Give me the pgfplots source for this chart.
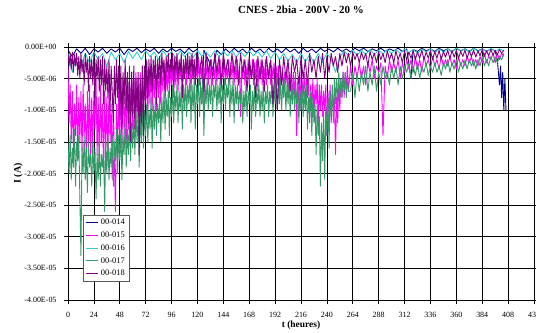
\documentclass[border=0pt]{standalone}
\usepackage{pgfplots}
\pgfplotsset{compat=1.18}
\usepackage{fontspec}
\setmainfont{Liberation Serif}
\definecolor{cnavy}{HTML}{000080}
\definecolor{cmag}{HTML}{FF00FF}
\definecolor{ccyan}{HTML}{33CCCC}
\definecolor{cgreen}{HTML}{339966}
\definecolor{cpurp}{HTML}{800080}
\begin{document}
\begin{tikzpicture}
\begin{axis}[name=ax,
  scale only axis, width=466bp, height=253bp,
  xmin=0, xmax=432, ymin=-40, ymax=0,
  xtick={0,24,...,432},
  ytick={0,-5,-10,-15,-20,-25,-30,-35,-40},
  yticklabels={0.00E+00,-5.00E-06,-1.00E-05,-1.50E-05,-2.00E-05,-2.50E-05,-3.00E-05,-3.50E-05,-4.00E-05},
  /pgf/number format/assume math mode=true,
  tick label style={font=\fontsize{8}{9}\selectfont},
  xticklabel style={anchor=center, yshift=-11bp},
  yticklabel style={anchor=east, xshift=-4bp},
  tick align=outside, major tick length=4bp,
  tick style={black, line width=0.6pt},
  grid=major, major grid style={black, line width=0.6pt},
  axis line style={black, line width=0.6pt},
  title={CNES - 2bia - 200V - 20 \%},
  title style={font=\bfseries\fontsize{11}{12}\selectfont, at={(axis description cs:0.5,1.123)}, anchor=center},
  xlabel={t (heures)},
  xlabel style={font=\bfseries\fontsize{9.5}{10}\selectfont, at={(axis description cs:0.5,-0.098)}, anchor=center},
  ylabel={I (A)},
  ylabel style={font=\bfseries\fontsize{10}{11}\selectfont, at={(axis description cs:-0.107,0.5)}, anchor=center, rotate=0},
  legend style={at={(rel axis cs:0.032,0.336)}, anchor=north west, draw=gray!70!black, line width=0.6pt, fill=white, font=\fontsize{8.5}{10}\selectfont, inner sep=2bp, row sep=1.6bp, cells={anchor=west}},
  legend image code/.code={\draw[#1, line width=1pt] plot coordinates {(0cm,0cm) (0.45cm,0cm)};},
  every axis plot/.append style={line width=0.9pt, line join=round},
]
\addplot[cnavy] coordinates {
(0,-0.5)(4,-1.5)(8,-0.3)(12,-1)(16,-0.2)(20,-1.2)(24,-0.3)(28,-0.8)(32,-0.2)(36,-1)(40,-0.3)(44,-0.8)(48,-0.2)(52,-1.2)(56,-0.3)(60,-0.7)(64,-0.2)(68,-0.9)(72,-0.3)(76,-0.7)(80,-0.2)(84,-1)(88,-0.3)(92,-0.8)(96,-0.2)(100,-0.7)(104,-0.3)(108,-1)(112,-0.2)(116,-0.8)(120,-0.3)(124,-9)(126,-0.5)(130,-2)(134,-3.5)(138,-0.5)(142,-1.2)(146,-0.3)(150,-0.9)(154,-0.2)(158,-0.8)(162,-0.3)(166,-1)(170,-0.2)(174,-0.8)(178,-0.3)(182,-1)(186,-0.2)(190,-0.8)(194,-0.3)(198,-0.9)(202,-0.2)(206,-0.8)(210,-0.3)(214,-1)(218,-0.2)(222,-0.8)(226,-0.3)(230,-0.9)(234,-0.2)(238,-0.7)(242,-0.3)(246,-0.8)(250,-0.2)(254,-0.7)(258,-0.3)(262,-0.8)(266,-0.2)(270,-0.6)(274,-0.2)(278,-0.7)(282,-0.3)(286,-0.6)(290,-0.2)(294,-0.7)(298,-0.3)(302,-0.6)(306,-0.2)(310,-0.7)(314,-0.3)(318,-5)(320,-0.4)(324,-0.7)(328,-0.2)(332,-0.6)(336,-0.3)(340,-0.7)(344,-0.2)(348,-0.6)(352,-0.3)(356,-0.7)(360,-0.2)(364,-0.6)(368,-0.3)(372,-0.7)(376,-0.2)(380,-0.6)(384,-0.3)(388,-0.7)(392,-0.3)(396,-0.6)(398,-2)(400,-6)(401,-3)(402,-8)(403,-4)(404,-10)(405,-5)(406,-10)
};
\addlegendentry{00-014}
\addplot[cmag] coordinates {
(0,-3)(1,-12)(2,-6)(3,-15)(4,-7)(5,-17)(6,-9)(7,-14)(8,-6)(9,-18)(10,-8)(11,-15)(12,-7)(13,-17)(14,-6)(15,-14)(16,-9)(17,-19)(18,-7)(19,-15)(20,-6)(21,-18)(22,-8)(23,-16)(24,-7)(25,-13)(26,-5)(27,-17)(28,-8)(29,-19)(30,-6)(31,-15)(32,-9)(33,-20)(34,-7)(35,-16)(36,-8)(37,-18)(38,-6)(39,-15)(40,-9)(41,-21)(42,-8)(43,-18)(44,-26)(45,-9)(46,-17)(47,-7)(48,-15)(49,-6)(50,-16)(51,-5)(52,-14)(53,-7)(54,-15)(55,-5)(56,-13)(57,-6)(58,-12)(59,-4)(60,-13)(61,-5)(62,-11)(63,-4)(64,-12)(65,-5)(66,-10)(67,-4)(68,-11)(69,-3)(70,-10)(71,-4)(72,-9)(73,-3)(74,-11)(75,-4)(76,-9)(77,-3)(78,-10)(79,-4)(80,-8)(81,-3)(82,-10)(83,-3)(84,-8)(85,-4)(86,-9)(87,-3)(88,-7)(89,-2.5)(90,-9)(91,-3)(92,-7)(93,-2.5)(94,-8)(95,-3)(96,-6)(97,-2.5)(98,-8)(99,-3)(100,-6)(101,-2)(102,-7)(103,-3)(104,-5)(105,-2)(106,-7)(107,-3)(108,-5)(109,-2)(110,-6)(111,-3)(112,-5)(113,-2)(114,-7)(115,-3)(116,-5)(117,-2)(118,-6)(119,-3)(120,-5)(121,-2)(122,-6)(123,-2.5)(124,-5)(125,-2)(126,-9)(127,-3)(128,-5)(129,-2)(130,-6)(131,-2.5)(132,-5)(133,-2)(134,-6)(135,-3)(136,-5)(137,-2)(138,-6)(139,-2.5)(140,-5)(141,-2)(142,-7)(143,-3)(144,-5)(145,-2)(146,-6)(147,-3)(148,-5)(149,-2)(150,-6)(151,-2.5)(152,-5)(153,-2)(154,-6)(155,-3)(156,-5)(157,-2)(158,-6)(159,-3)(160,-11)(161,-3)(162,-5)(163,-2)(164,-6)(165,-3)(166,-5)(167,-2)(168,-6)(169,-3)(170,-5)(171,-2)(172,-6)(173,-2.5)(174,-5)(175,-2)(176,-7)(177,-3)(178,-5)(179,-2)(180,-6)(181,-3)(182,-5)(183,-2)(184,-6)(185,-3)(186,-5)(187,-2.5)(188,-6)(189,-3)(190,-5)(191,-2.5)(192,-7)(193,-3)(194,-6)(195,-3)(196,-8)(197,-3)(198,-6)(199,-3.5)(200,-7)(201,-4)(202,-6)(203,-3)(204,-8)(205,-4)(206,-7)(207,-3)(208,-9)(209,-4)(210,-8)(211,-4)(212,-14)(213,-5)(214,-9)(215,-4)(216,-10)(217,-5)(218,-8)(219,-4)(220,-9)(221,-5)(222,-8)(223,-5)(224,-12)(225,-6)(226,-10)(227,-5)(228,-11)(229,-6)(230,-9)(231,-5)(232,-13)(233,-6)(234,-10)(235,-6)(236,-11)(237,-7)(238,-10)(239,-6)(240,-14)(241,-7)(242,-11)(243,-6)(244,-12)(245,-7)(246,-10)(247,-8)(248,-17)(249,-8)(250,-12)(251,-6)(252,-10)(253,-5)(254,-8)(255,-4)(256,-8)(257,-4)(258,-7)(259,-3)(260,-7)(262,-3)(264,-6)(266,-3)(268,-5)(270,-2.5)(272,-5)(274,-3)(276,-6)(278,-2.5)(280,-4)(282,-2)(284,-5)(286,-3)(288,-4)(290,-2.5)(292,-14)(294,-3)(296,-5)(298,-2)(300,-4)(302,-2.5)(304,-4)(306,-2)(308,-5)(310,-2.5)(312,-4)(314,-2)(316,-3.5)(318,-2)(320,-4)(322,-1.5)(324,-3.5)(326,-2)(328,-4)(330,-1.5)(332,-3)(334,-2)(336,-3.5)(338,-1.5)(340,-3)(342,-2)(344,-3.5)(346,-1.5)(348,-3)(350,-2)(352,-3)(354,-1.5)(356,-3)(358,-2)(360,-3.5)(362,-1.5)(364,-3)(366,-2)(368,-3)(370,-1.5)(372,-2.5)(374,-1.5)(376,-3)(378,-2)(380,-3)(382,-1.5)(384,-2.5)(386,-1)(388,-2.5)(390,-1.5)(392,-2)(394,-1)(396,-2.5)(398,-1)(400,-2)(402,-1)(404,-1.5)
};
\addlegendentry{00-015}
\addplot[ccyan] coordinates {
(0,-1)(4,-4)(8,-1.5)(12,-3)(16,-1)(20,-2.5)(24,-0.8)(28,-2)(32,-1)(36,-3)(40,-0.8)(44,-2)(48,-1)(52,-2.5)(56,-0.7)(60,-1.8)(64,-0.8)(68,-2)(72,-0.6)(76,-1.5)(80,-0.8)(84,-2)(88,-0.6)(92,-1.5)(96,-0.7)(100,-1.8)(104,-0.6)(108,-1.5)(112,-0.8)(116,-1.7)(120,-0.6)(124,-1.4)(128,-0.8)(132,-1.6)(136,-0.6)(140,-1.5)(144,-0.7)(148,-1.4)(152,-0.6)(156,-1.6)(160,-0.7)(164,-1.5)(168,-0.6)(172,-1.4)(176,-0.7)(180,-1.6)(184,-0.6)(188,-1.8)(192,-0.8)(196,-2)(200,-1)(204,-2.2)(208,-1.2)(212,-2.5)(216,-1)(220,-2.3)(224,-1.2)(228,-2.5)(232,-1)(236,-2.4)(240,-1)(244,-2)(248,-4)(252,-1.6)(256,-0.6)(260,-1.4)(264,-0.5)(268,-1.3)(272,-0.5)(276,-1.2)(280,-0.4)(284,-1.2)(288,-0.5)(292,-1.1)(296,-0.4)(300,-1)(304,-0.4)(308,-1)(312,-0.3)(316,-0.9)(320,-0.4)(324,-1)(328,-0.3)(332,-0.8)(336,-0.3)(340,-0.9)(344,-0.3)(348,-0.8)(352,-0.3)(356,-0.8)(360,-0.2)(364,-0.7)(368,-0.3)(372,-0.8)(376,-0.2)(380,-0.7)(384,-0.3)(388,-0.8)(392,-0.2)(396,-0.7)(400,-0.3)(404,-0.6)
};
\addlegendentry{00-016}
\addplot[cgreen] coordinates {
(0,-15)(1,-20)(2,-14)(3,-21)(4,-16)(5,-19)(6,-13)(7,-22)(8,-15)(9,-18)(10,-14)(11,-24)(12,-33)(13,-16)(14,-20)(15,-14)(16,-21)(17,-16)(18,-23)(19,-15)(20,-19)(21,-17)(22,-22)(23,-15)(24,-20)(25,-16)(26,-24)(27,-17)(28,-21)(29,-15)(30,-22)(31,-17)(32,-19)(33,-16)(34,-26)(35,-15)(36,-20)(37,-14)(38,-21)(39,-16)(40,-19)(41,-14)(42,-22)(43,-15)(44,-18)(45,-13)(46,-20)(47,-14)(48,-18)(49,-13)(50,-21)(51,-14)(52,-17)(53,-12)(54,-19)(55,-13)(56,-17)(57,-11)(58,-18)(59,-12)(60,-16)(61,-11)(62,-17)(63,-10)(64,-15)(65,-11)(66,-19)(67,-10)(68,-15)(69,-9)(70,-16)(71,-10)(72,-14)(73,-9)(74,-15)(75,-10)(76,-13)(77,-8)(78,-16)(79,-9)(80,-13)(81,-8)(82,-14)(83,-9)(84,-12)(85,-8)(86,-15)(87,-8)(88,-12)(89,-7)(90,-13)(91,-8)(92,-11)(93,-7)(94,-14)(95,-8)(96,-11)(97,-6)(98,-12)(99,-7)(100,-10)(101,-6)(102,-12)(103,-7)(104,-10)(105,-6)(106,-13)(107,-6)(108,-10)(109,-5)(110,-11)(111,-6)(112,-9)(113,-5)(114,-12)(115,-6)(116,-10)(117,-5)(118,-13)(119,-6)(120,-9)(121,-5)(122,-11)(123,-6)(124,-9)(125,-5)(126,-14)(127,-6)(128,-9)(129,-5)(130,-10)(131,-6)(132,-9)(133,-5)(134,-11)(135,-6)(136,-8)(137,-5)(138,-10)(139,-6)(140,-9)(141,-5)(142,-12)(143,-6)(144,-9)(145,-5)(146,-10)(147,-6)(148,-8)(149,-5)(150,-11)(151,-6)(152,-9)(153,-5)(154,-12)(155,-6)(156,-9)(157,-6)(158,-10)(159,-7)(160,-9)(161,-6)(162,-12)(163,-7)(164,-10)(165,-6)(166,-11)(167,-7)(168,-9)(169,-6)(170,-13)(171,-7)(172,-10)(173,-6)(174,-11)(175,-7)(176,-9)(177,-6)(178,-11)(179,-7)(180,-10)(181,-6)(182,-12)(183,-7)(184,-9)(185,-6)(186,-11)(187,-7)(188,-9)(189,-5)(190,-11)(191,-6)(192,-9)(193,-5)(194,-10)(195,-6)(196,-9)(197,-5)(198,-10)(199,-6)(200,-8)(201,-5)(202,-10)(203,-6)(204,-9)(205,-5)(206,-11)(207,-6)(208,-9)(209,-5)(210,-10)(211,-6)(212,-9)(213,-6)(214,-12)(215,-7)(216,-10)(217,-6)(218,-11)(219,-7)(220,-10)(221,-6)(222,-13)(223,-8)(224,-11)(225,-7)(226,-14)(227,-8)(228,-12)(229,-9)(230,-17)(231,-9)(232,-14)(233,-11)(234,-22)(235,-12)(236,-18)(237,-10)(238,-21)(239,-9)(240,-14)(241,-8)(242,-16)(243,-7)(244,-11)(245,-6)(246,-12)(247,-5)(248,-9)(249,-5)(250,-9)(251,-4)(252,-8)(253,-5)(254,-8)(255,-4)(256,-7)(257,-4)(258,-8)(259,-5)(260,-7)(262,-7)(264,-4)(266,-8)(268,-4)(270,-7)(272,-4)(274,-6)(276,-3)(278,-7)(280,-4)(282,-6)(284,-3)(286,-7)(288,-4)(290,-6)(292,-3)(294,-5)(296,-4)(298,-6)(300,-3)(302,-5)(304,-3)(306,-6)(308,-3)(310,-5)(312,-3)(314,-4)(316,-2.5)(318,-5)(320,-3)(322,-4.5)(324,-2.5)(326,-5)(328,-3)(330,-4)(332,-2.5)(334,-4.5)(336,-3)(338,-4)(340,-2.5)(342,-4)(344,-3)(346,-4.5)(348,-2.5)(350,-3.5)(352,-2)(354,-4)(356,-2.5)(358,-3.5)(360,-2)(362,-4)(364,-2.5)(366,-3.5)(368,-2)(370,-3.5)(372,-2)(374,-3)(376,-2)(378,-3.5)(380,-2)(382,-3)(384,-1.5)(386,-3)(388,-2)(390,-3)(392,-1.5)(394,-2.5)(396,-1.5)(398,-2.5)(400,-1.5)(402,-2)(404,-1)
};
\addlegendentry{00-017}
\addplot[cpurp] coordinates {
(0,-1)(1,-3)(2,-1)(3,-3.5)(4,-0.8)(5,-4)(6,-1.2)(7,-3)(8,-1)(9,-4.5)(10,-1.5)(11,-5)(12,-1)(13,-4)(14,-2)(15,-6)(16,-1)(17,-4)(18,-2)(19,-7)(20,-1.5)(21,-5)(22,-2)(23,-6)(24,-1)(25,-8)(26,-2)(27,-5)(28,-1.5)(29,-7)(30,-2)(31,-6)(32,-1.5)(33,-9)(34,-2)(35,-7)(36,-3)(37,-8)(38,-2)(39,-10)(40,-3)(41,-7)(42,-12)(43,-3)(44,-9)(45,-2)(46,-8)(47,-3)(48,-11)(49,-3)(50,-13)(51,-4)(52,-9)(53,-2)(54,-10)(55,-4)(56,-12)(57,-3)(58,-15)(59,-4)(60,-11)(61,-3)(62,-13)(63,-5)(64,-10)(65,-4)(66,-17)(67,-5)(68,-12)(69,-3)(70,-14)(71,-3)(72,-9)(73,-2)(74,-8)(75,-2)(76,-6)(77,-1.5)(78,-7)(79,-2)(80,-5)(81,-1.5)(82,-9)(83,-2)(84,-5)(85,-1.5)(86,-6)(87,-1)(88,-4)(89,-2)(90,-7)(91,-1.5)(92,-4)(93,-1)(94,-5)(95,-2)(96,-4)(97,-1)(98,-6)(99,-1.5)(100,-4)(101,-1)(102,-5)(103,-2)(104,-4)(105,-1)(106,-8)(107,-2)(108,-5)(109,-1.5)(110,-4)(111,-1)(112,-5)(113,-1.5)(114,-4)(115,-1)(116,-5)(117,-2)(118,-6)(119,-1)(120,-4)(122,-4)(124,-1.5)(126,-7)(128,-1)(130,-4)(132,-2)(134,-5)(136,-1)(138,-4)(140,-1.5)(142,-6)(144,-1)(146,-4)(148,-2)(150,-5)(152,-1)(154,-4)(156,-1.5)(158,-6)(160,-1)(162,-4)(164,-2)(166,-7)(168,-1.5)(170,-5)(172,-2)(174,-8)(176,-1.5)(178,-5)(180,-2)(182,-7)(184,-1.5)(186,-5)(188,-2)(190,-9)(192,-3)(194,-10)(196,-2)(198,-6)(200,-1.5)(202,-5)(204,-2)(206,-7)(208,-1.5)(210,-4)(212,-2)(214,-6)(216,-1.5)(218,-5)(220,-2)(222,-6)(224,-1)(226,-4)(228,-2)(230,-5)(232,-1.5)(234,-4)(236,-1)(238,-5)(240,-1.5)(242,-4)(244,-1)(246,-3)(248,-1.5)(250,-4)(252,-1)(254,-3)(256,-0.8)(258,-2.5)(260,-1)(262,-3)(264,-0.8)(266,-2)(268,-1)(270,-2.5)(272,-0.8)(274,-2)(276,-1)(278,-3)(280,-0.7)(282,-2)(284,-1)(286,-2.5)(288,-0.7)(290,-2)(292,-1)(294,-2.5)(296,-0.6)(298,-2)(300,-1)(302,-2.5)(304,-0.6)(306,-2)(308,-1)(310,-2.5)(312,-0.6)(314,-2)(316,-0.8)(318,-1.8)(320,-0.6)(322,-2)(324,-0.8)(326,-1.8)(328,-0.5)(330,-2)(332,-0.8)(334,-1.8)(336,-0.5)(338,-2)(340,-0.7)(342,-1.8)(344,-0.5)(346,-2)(348,-0.7)(350,-1.6)(352,-0.5)(354,-1.8)(356,-0.6)(358,-1.6)(360,-0.5)(362,-1.8)(364,-0.7)(366,-1.5)(368,-0.5)(370,-1.8)(372,-0.6)(374,-1.5)(376,-0.5)(378,-1.6)(380,-0.6)(382,-1.4)(384,-0.4)(386,-1.5)(388,-0.6)(390,-1.4)(392,-0.4)(394,-1.3)(396,-0.5)(398,-1.2)(400,-0.4)(402,-1)(404,-0.5)
};
\addlegendentry{00-018}
\end{axis}
\pgfresetboundingbox
\path[use as bounding box] ([shift={(-68bp,-33bp)}]ax.south west) rectangle ([shift={(2bp,47bp)}]ax.north east);
\end{tikzpicture}
\end{document}
